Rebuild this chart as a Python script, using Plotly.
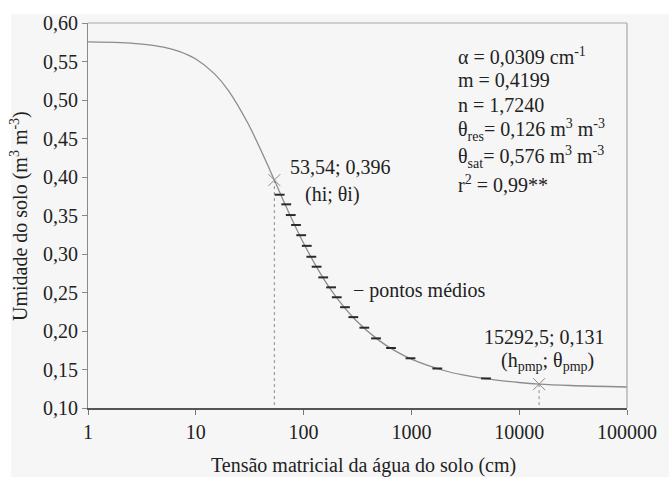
import plotly.graph_objects as go

# ---- data ----
curve_h = [1, 2, 3, 5, 7, 10, 15, 20, 30, 40, 53.54, 70, 100, 150, 200, 300,
           500, 700, 1000, 2000, 3000, 5000, 10000, 15292.5, 30000, 100000]
curve_theta = [0.5755, 0.5745, 0.5729, 0.5687, 0.5632, 0.5532, 0.5336, 0.5126,
               0.4714, 0.4353, 0.396, 0.3593, 0.3140, 0.2700, 0.2443, 0.2150,
               0.1878, 0.1745, 0.1635, 0.1487, 0.1429, 0.1377, 0.1331, 0.131,
               0.1292, 0.1273]

mean_h = [60, 69, 76, 85, 95, 107, 118, 132, 152, 180, 203, 242, 289, 366,
          470, 647, 981, 1739, 4920]
mean_theta = [0.377, 0.3645, 0.3506, 0.3377, 0.3244, 0.3106, 0.2964, 0.2835,
              0.2696, 0.2567, 0.2438, 0.2309, 0.2180, 0.2043, 0.1904, 0.1779,
              0.1646, 0.1513, 0.1384]

key_h = [53.54, 15292.5]
key_theta = [0.396, 0.131]

x_tickvals = [1, 10, 100, 1000, 10000, 100000]
x_ticktext = ["1", "10", "100", "1000", "10000", "100000"]
y_tickvals = [0.10, 0.15, 0.20, 0.25, 0.30, 0.35, 0.40, 0.45, 0.50, 0.55, 0.60]

param_lines = [
    "α = 0,0309 cm<sup>-1</sup>",
    "m = 0,4199",
    "n = 1,7240",
    "θ<sub>res</sub>= 0,126 m<sup>3</sup> m<sup>-3</sup>",
    "θ<sub>sat</sub>= 0,576 m<sup>3</sup> m<sup>-3</sup>",
    "r<sup>2</sup> = 0,99**",
]
param_y = [54, 78, 103, 129, 156, 183]

# ---- layout geometry (pixels) ----
W, H = 669, 477
L, R, T, B = 88, 627, 21, 408
FONT = "Times New Roman, Liberation Serif, Tinos, DejaVu Serif, serif"
TXT = "#222222"


def px(x):
    return (x - L) / (R - L)


def py(y):
    return (B - y) / (B - T)


def tf(size=20):
    return dict(size=size, color=TXT, family=FONT)


fig = go.Figure()

fig.add_trace(go.Scatter(x=curve_h, y=curve_theta, mode="lines",
                         line=dict(color="#8c8c8c", width=1.3, shape="spline"),
                         hoverinfo="skip", showlegend=False))

for h, t in zip(key_h, key_theta):
    fig.add_trace(go.Scatter(x=[h, h], y=[t, 0.10], mode="lines",
                             line=dict(color="#8c8c8c", width=1, dash="dot"),
                             showlegend=False, hoverinfo="skip"))

fig.add_trace(go.Scatter(x=mean_h, y=mean_theta, mode="markers",
                         marker=dict(symbol="line-ew", size=7,
                                     line=dict(color="#2a2a2a", width=2)),
                         showlegend=False))

fig.add_trace(go.Scatter(x=key_h, y=key_theta, mode="markers",
                         marker=dict(symbol="x-thin", size=12,
                                     line=dict(color="#8c8c8c", width=1)),
                         showlegend=False))

shapes = [
    dict(type="rect", xref="paper", yref="paper", x0=px(11), x1=px(700),
         y0=py(500), y1=py(12), fillcolor="#f6f6f6", line=dict(width=0),
         layer="below"),
    dict(type="line", xref="paper", yref="paper", x0=0, x1=1, y0=1, y1=1,
         line=dict(color="#a8a8a8", width=1.2)),
    dict(type="line", xref="paper", yref="paper", x0=1, x1=1, y0=0, y1=1,
         line=dict(color="#a8a8a8", width=1.2)),
]

annotations = []
for line, yy in zip(param_lines, param_y):
    annotations.append(dict(x=px(456), y=py(yy), text=line, xanchor="left"))

annotations += [
    dict(x=px(288), y=py(166), text="53,54; 0,396", xanchor="left"),
    dict(x=px(303), y=py(193), text="(hi; θi)", xanchor="left"),
    dict(x=px(351), y=py(290), text="− pontos médios", xanchor="left"),
    dict(x=px(607), y=py(337), text="15292,5; 0,131", xanchor="right"),
    dict(x=px(547), y=py(361), text="(h<sub>pmp</sub>; θ<sub>pmp</sub>)", xanchor="center"),
    dict(x=px(20), y=py(215), text="Umidade do solo (m<sup>3</sup> m<sup>-3</sup>)",
         xanchor="center", textangle=-90),
    dict(x=px(363), y=py(466), text="Tensão matricial da água do solo (cm)",
         xanchor="center"),
]
for a in annotations:
    a.update(xref="paper", yref="paper", showarrow=False, yanchor="middle",
             font=tf(20))

fig.update_layout(
    width=W, height=H,
    margin=dict(l=L, r=W - R, t=T, b=H - B),
    paper_bgcolor="white",
    plot_bgcolor="rgba(0,0,0,0)",
    separators=",.",
    font=tf(20),
    shapes=shapes,
    annotations=annotations,
    showlegend=False,
    xaxis=dict(type="log", range=[0, 5], tickvals=x_tickvals, ticktext=x_ticktext,
               showgrid=False, zeroline=False, showline=True, linecolor="#555555",
               linewidth=1.5, ticks="outside", ticklen=5, tickcolor="#777777",
               tickfont=tf(20)),
    yaxis=dict(range=[0.10, 0.60], tickvals=y_tickvals, tickformat=".2f",
               showgrid=False, zeroline=False, showline=True, linecolor="#8a8a8a",
               linewidth=1.2, ticks="outside", ticklen=5, tickcolor="#888888",
               tickfont=tf(20)),
)

fig.write_html("out.html", config={"displayModeBar": False},
               post_script="document.body.style.margin='0';"
                           "document.body.style.overflow='hidden';")
